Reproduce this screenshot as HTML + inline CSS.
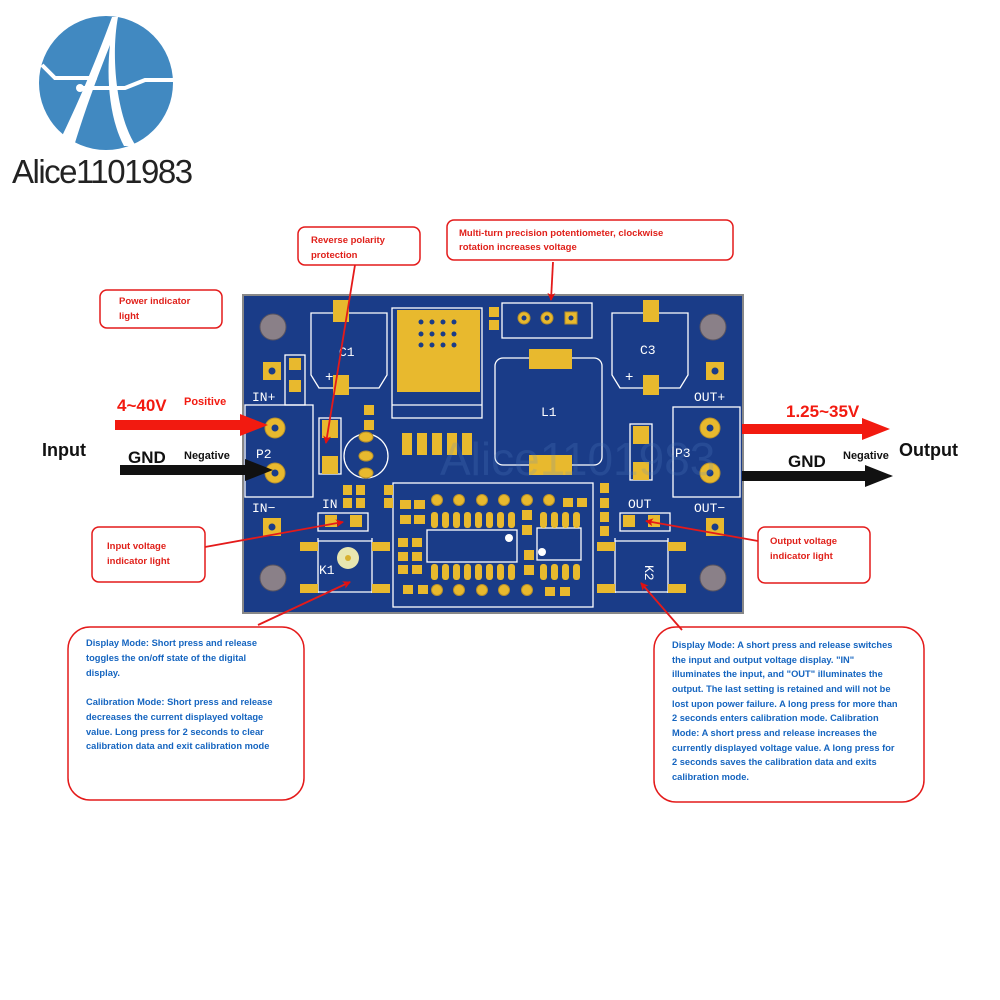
<!DOCTYPE html>
<html><head><meta charset="utf-8"><style>
html,body{margin:0;padding:0;background:#fff;}
svg{display:block;}
.bt{font-family:"Liberation Sans",sans-serif;font-weight:bold;font-size:9.3px;fill:#1565c0;}
.rt{font-family:"Liberation Sans",sans-serif;font-weight:bold;font-size:9.5px;fill:#e0201a;}
.silk{font-family:"Liberation Mono",monospace;fill:#fff;font-size:13px;}
</style></head><body>
<svg width="1000" height="1000" viewBox="0 0 1000 1000" xmlns="http://www.w3.org/2000/svg">
<defs>
<marker id="ar" markerWidth="8" markerHeight="8" refX="7" refY="4" orient="auto" markerUnits="userSpaceOnUse"><path d="M0,0 L8,4 L0,8 L2,4 z" fill="#e01010"/></marker>
</defs>
<!-- logo -->
<circle cx="106" cy="83" r="67" fill="#4189c1"/>
<path d="M60,140 C80,100 100,50 112,17 L118,17 C110,60 118,120 136,146 L124,146 C110,120 106,80 110,45 C98,75 85,110 74,146 Z" fill="#fff"/>
<path d="M42,65 L55,78 L92,78 M80,88 L125,88 L145,80 L174,80" stroke="#fff" stroke-width="4" fill="none"/>
<circle cx="93" cy="78" r="4" fill="#fff"/><circle cx="80" cy="88" r="4" fill="#fff"/>
<text x="12" y="183" font-family="Liberation Sans,sans-serif" font-size="33" fill="#222" letter-spacing="-1.5">Alice1101983</text>

<!-- PCB -->
<rect x="243" y="295" width="500" height="318" fill="#1a3c88" stroke="#888" stroke-width="2"/>
<g fill="#8a8088" stroke="#5a5560" stroke-width="1"><circle cx="273" cy="327" r="13"/><circle cx="713" cy="327" r="13"/><circle cx="273" cy="578" r="13"/><circle cx="713" cy="578" r="13"/></g>
<g fill="none" stroke="#fff" stroke-width="1.3">
<path d="M311,313 H387 V375 L379,388 H319 L311,375 Z"/>
<path d="M612,313 H688 V375 L680,388 H620 L612,375 Z"/>
<rect x="392" y="308" width="90" height="110"/><line x1="392" y1="405" x2="482" y2="405"/>
<rect x="502" y="303" width="90" height="35"/>
<rect x="495" y="358" width="107" height="107" rx="8"/>
<rect x="245" y="405" width="68" height="92"/>
<rect x="673" y="407" width="67" height="90"/>
<rect x="393" y="483" width="200" height="124"/>
<rect x="427" y="530" width="90" height="32"/><rect x="537" y="528" width="44" height="32"/>
<circle cx="366" cy="456" r="22"/>
<path d="M318,538 V593 M372,538 V593 M318,541 H372 M318,592 H372"/>
<path d="M615,538 V593 M668,538 V593 M615,541 H668 M615,592 H668"/>
<rect x="318" y="513" width="50" height="18"/><rect x="620" y="513" width="50" height="18"/>
<rect x="319" y="418" width="22" height="56"/><rect x="630" y="424" width="22" height="56"/>
<rect x="285" y="355" width="20" height="50"/>
</g>
<g fill="#e8b92e">
<rect x="397" y="310" width="83" height="82"/>
<rect x="333" y="300" width="16" height="22"/><rect x="333" y="375" width="16" height="20"/>
<rect x="643" y="300" width="16" height="22"/><rect x="643" y="375" width="16" height="20"/>
<rect x="529" y="349" width="43" height="20"/><rect x="529" y="455" width="43" height="20"/>
<rect x="402" y="433" width="10" height="22"/><rect x="417" y="433" width="10" height="22"/><rect x="432" y="433" width="10" height="22"/><rect x="447" y="433" width="10" height="22"/><rect x="462" y="433" width="10" height="22"/>
<rect x="263" y="362" width="18" height="18"/><rect x="706" y="362" width="18" height="18"/>
<rect x="263" y="518" width="18" height="18"/><rect x="706" y="518" width="18" height="18"/>
<rect x="489" y="307" width="10" height="10"/><rect x="489" y="320" width="10" height="10"/>
<rect x="289" y="358" width="12" height="12"/><rect x="289" y="380" width="12" height="12"/>
<rect x="322" y="420" width="16" height="18"/><rect x="322" y="456" width="16" height="18"/>
<rect x="633" y="426" width="16" height="18"/><rect x="633" y="462" width="16" height="18"/>
<rect x="364" y="405" width="10" height="10"/><rect x="364" y="420" width="10" height="10"/>
<rect x="343" y="485" width="9" height="10"/><rect x="343" y="498" width="9" height="10"/><rect x="356" y="485" width="9" height="10"/><rect x="356" y="498" width="9" height="10"/><rect x="384" y="485" width="9" height="10"/><rect x="384" y="498" width="9" height="10"/>
<rect x="325" y="515" width="12" height="12"/><rect x="350" y="515" width="12" height="12"/>
<rect x="623" y="515" width="12" height="12"/><rect x="648" y="515" width="12" height="12"/>
<rect x="600" y="483" width="9" height="10"/><rect x="600" y="498" width="9" height="10"/><rect x="600" y="512" width="9" height="10"/><rect x="600" y="526" width="9" height="10"/>
<rect x="300" y="542" width="18" height="9"/><rect x="372" y="542" width="18" height="9"/><rect x="300" y="584" width="18" height="9"/><rect x="372" y="584" width="18" height="9"/>
<rect x="597" y="542" width="18" height="9"/><rect x="668" y="542" width="18" height="9"/><rect x="597" y="584" width="18" height="9"/><rect x="668" y="584" width="18" height="9"/>
<rect x="400" y="500" width="11" height="9"/><rect x="414" y="500" width="11" height="9"/><rect x="400" y="515" width="11" height="9"/><rect x="414" y="515" width="11" height="9"/>
<rect x="398" y="538" width="10" height="9"/><rect x="412" y="538" width="10" height="9"/><rect x="398" y="552" width="10" height="9"/><rect x="412" y="552" width="10" height="9"/><rect x="398" y="565" width="10" height="9"/><rect x="412" y="565" width="10" height="9"/>
<rect x="403" y="585" width="10" height="9"/><rect x="418" y="585" width="10" height="9"/><rect x="545" y="587" width="10" height="9"/><rect x="560" y="587" width="10" height="9"/>
<rect x="563" y="498" width="10" height="9"/><rect x="577" y="498" width="10" height="9"/>
<rect x="522" y="510" width="10" height="10"/><rect x="522" y="525" width="10" height="10"/><rect x="524" y="550" width="10" height="10"/><rect x="524" y="565" width="10" height="10"/>
</g>
<g fill="#e8b92e">
<rect x="431" y="512" width="7" height="16" rx="3"/><rect x="442" y="512" width="7" height="16" rx="3"/><rect x="453" y="512" width="7" height="16" rx="3"/><rect x="464" y="512" width="7" height="16" rx="3"/><rect x="475" y="512" width="7" height="16" rx="3"/><rect x="486" y="512" width="7" height="16" rx="3"/><rect x="497" y="512" width="7" height="16" rx="3"/><rect x="508" y="512" width="7" height="16" rx="3"/><rect x="540" y="512" width="7" height="16" rx="3"/><rect x="551" y="512" width="7" height="16" rx="3"/><rect x="562" y="512" width="7" height="16" rx="3"/><rect x="573" y="512" width="7" height="16" rx="3"/>
<rect x="431" y="564" width="7" height="16" rx="3"/><rect x="442" y="564" width="7" height="16" rx="3"/><rect x="453" y="564" width="7" height="16" rx="3"/><rect x="464" y="564" width="7" height="16" rx="3"/><rect x="475" y="564" width="7" height="16" rx="3"/><rect x="486" y="564" width="7" height="16" rx="3"/><rect x="497" y="564" width="7" height="16" rx="3"/><rect x="508" y="564" width="7" height="16" rx="3"/><rect x="540" y="564" width="7" height="16" rx="3"/><rect x="551" y="564" width="7" height="16" rx="3"/><rect x="562" y="564" width="7" height="16" rx="3"/><rect x="573" y="564" width="7" height="16" rx="3"/>
</g>
<g fill="#e8b92e" stroke="#b8902a" stroke-width="1">
<circle cx="275" cy="428" r="10"/><circle cx="275" cy="473" r="10"/><circle cx="710" cy="428" r="10"/><circle cx="710" cy="473" r="10"/>
<circle cx="524" cy="318" r="6"/><circle cx="547" cy="318" r="6"/><rect x="565" y="312" width="12" height="12"/>
<circle cx="437" cy="500" r="5.5"/><circle cx="459" cy="500" r="5.5"/><circle cx="482" cy="500" r="5.5"/><circle cx="504" cy="500" r="5.5"/><circle cx="527" cy="500" r="5.5"/><circle cx="549" cy="500" r="5.5"/>
<circle cx="437" cy="590" r="5.5"/><circle cx="459" cy="590" r="5.5"/><circle cx="482" cy="590" r="5.5"/><circle cx="504" cy="590" r="5.5"/><circle cx="527" cy="590" r="5.5"/>
<ellipse cx="366" cy="437" rx="7" ry="5"/><ellipse cx="366" cy="456" rx="7" ry="5"/><ellipse cx="366" cy="473" rx="7" ry="5"/>
</g>
<g fill="#1a3c88"><circle cx="275" cy="428" r="3.5"/><circle cx="275" cy="473" r="3.5"/><circle cx="710" cy="428" r="3.5"/><circle cx="710" cy="473" r="3.5"/><circle cx="272" cy="371" r="3.5"/><circle cx="715" cy="371" r="3.5"/><circle cx="272" cy="527" r="3.5"/><circle cx="715" cy="527" r="3.5"/>
<circle cx="524" cy="318" r="2.5"/><circle cx="547" cy="318" r="2.5"/><circle cx="571" cy="318" r="2.5"/>
<circle cx="421" cy="322" r="2.5"/><circle cx="432" cy="322" r="2.5"/><circle cx="443" cy="322" r="2.5"/><circle cx="454" cy="322" r="2.5"/><circle cx="421" cy="334" r="2.5"/><circle cx="432" cy="334" r="2.5"/><circle cx="443" cy="334" r="2.5"/><circle cx="454" cy="334" r="2.5"/><circle cx="421" cy="345" r="2.5"/><circle cx="432" cy="345" r="2.5"/><circle cx="443" cy="345" r="2.5"/><circle cx="454" cy="345" r="2.5"/>
</g>
<circle cx="348" cy="558" r="11" fill="#e8e6b0"/><circle cx="348" cy="558" r="3" fill="#d8b030"/>
<circle cx="509" cy="538" r="4" fill="#fff"/><circle cx="542" cy="552" r="4" fill="#fff"/>
<g class="silk">
<text x="339" y="356">C1</text><text x="640" y="354">C3</text><text x="541" y="416">L1</text>
<text x="252" y="401">IN+</text><text x="252" y="512">IN−</text><text x="694" y="401">OUT+</text><text x="694" y="512">OUT−</text>
<text x="256" y="458">P2</text><text x="675" y="457">P3</text>
<text x="322" y="508">IN</text><text x="628" y="508">OUT</text>
<text x="319" y="574">K1</text>
<text x="636" y="566" transform="rotate(90 641 570)">K2</text>
<text x="325" y="381" font-size="14">+</text><text x="625" y="381" font-size="14">+</text>
</g>
<text x="440" y="475" font-family="Liberation Sans,sans-serif" font-size="46" fill="#5a8acc" opacity="0.2">Alice1101983</text>

<!-- big input/output arrows -->
<path d="M115,420 H240 V414 L268,425 L240,436 V430 H115 Z" fill="#f21a10"/>
<path d="M120,465 H245 V459 L273,470 L245,481 V475 H120 Z" fill="#111"/>
<path d="M742,424 H862 V418 L890,429 L862,440 V434 H742 Z" fill="#f21a10"/>
<path d="M742,471 H865 V465 L893,476 L865,487 V481 H742 Z" fill="#111"/>
<g font-family="Liberation Sans,sans-serif" font-weight="bold">
<text x="117" y="411" font-size="17" fill="#f21a10">4~40V</text>
<text x="184" y="405" font-size="11" fill="#f21a10">Positive</text>
<text x="42" y="456" font-size="18" fill="#111">Input</text>
<text x="128" y="463" font-size="17" fill="#111">GND</text>
<text x="184" y="459" font-size="11" fill="#111">Negative</text>
<text x="786" y="417" font-size="17" fill="#f21a10">1.25~35V</text>
<text x="788" y="467" font-size="17" fill="#111">GND</text>
<text x="843" y="459" font-size="11" fill="#111">Negative</text>
<text x="899" y="456" font-size="18" fill="#111">Output</text>
</g>

<!-- callout boxes -->
<g fill="#fff" stroke="#e41a1a" stroke-width="1.5">
<rect x="298" y="227" width="122" height="38" rx="7"/>
<rect x="447" y="220" width="286" height="40" rx="7"/>
<rect x="100" y="290" width="122" height="38" rx="7"/>
<rect x="92" y="527" width="113" height="55" rx="7"/>
<rect x="758" y="527" width="112" height="56" rx="7"/>
<rect x="68" y="627" width="236" height="173" rx="22"/>
<rect x="654" y="627" width="270" height="175" rx="22"/>
</g>
<g stroke="#e41a1a" stroke-width="1.8" fill="none" marker-end="url(#ar)">
<line x1="355" y1="265" x2="326" y2="443"/>
<line x1="553" y1="262" x2="551" y2="300"/>
<line x1="205" y1="547" x2="343" y2="522"/>
<line x1="758" y1="541" x2="646" y2="521"/>
<line x1="258" y1="625" x2="350" y2="582"/>
<line x1="682" y1="630" x2="641" y2="583"/>
</g>
<g class="rt">
<text x="311" y="243">Reverse polarity</text><text x="311" y="258">protection</text>
<text x="459" y="236">Multi-turn precision potentiometer, clockwise</text><text x="459" y="250">rotation increases voltage</text>
<text x="119" y="304">Power indicator</text><text x="119" y="319">light</text>
<text x="107" y="549">Input voltage</text><text x="107" y="564">indicator light</text>
<text x="770" y="544">Output voltage</text><text x="770" y="559">indicator light</text>
</g>
<g class="bt">
<text x="86" y="646">Display Mode: Short press and release</text>
<text x="86" y="661">toggles the on/off state of the digital</text>
<text x="86" y="676">display.</text>
<text x="86" y="705">Calibration Mode: Short press and release</text>
<text x="86" y="720">decreases the current displayed voltage</text>
<text x="86" y="735">value. Long press for 2 seconds to clear</text>
<text x="86" y="749">calibration data and exit calibration mode</text>
<text x="672" y="648">Display Mode: A short press and release switches</text>
<text x="672" y="663">the input and output voltage display. "IN"</text>
<text x="672" y="677">illuminates the input, and "OUT" illuminates the</text>
<text x="672" y="692">output. The last setting is retained and will not be</text>
<text x="672" y="707">lost upon power failure. A long press for more than</text>
<text x="672" y="721">2 seconds enters calibration mode. Calibration</text>
<text x="672" y="736">Mode: A short press and release increases the</text>
<text x="672" y="751">currently displayed voltage value. A long press for</text>
<text x="672" y="765">2 seconds saves the calibration data and exits</text>
<text x="672" y="780">calibration mode.</text>
</g>
</svg>
</body></html>
